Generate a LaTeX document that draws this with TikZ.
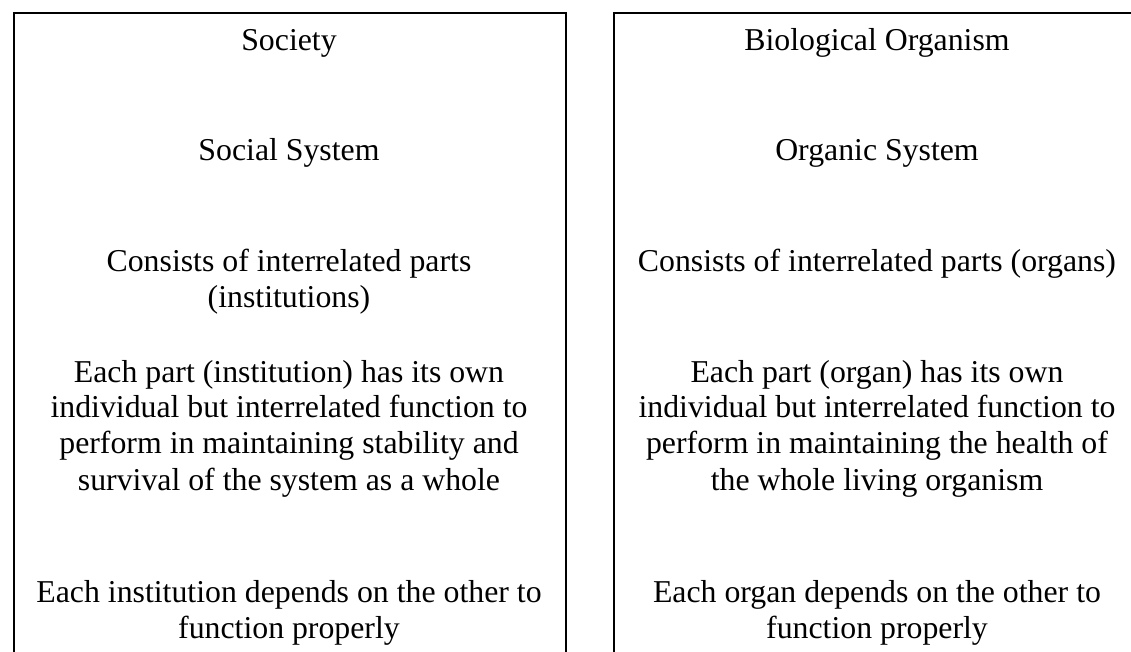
\documentclass[tikz,border=0pt]{standalone}
\usepackage{fontspec}
\setmainfont{Liberation Serif}
\tikzset{panel/.style={rectangle,draw,line width=1pt,minimum width=276pt,minimum height=350pt,anchor=north west,inner sep=0pt},
         entry/.style={align=center,inner sep=0pt,anchor=base,font=\fontsize{15.9}{18}\selectfont}}

\begin{document}
\begin{tikzpicture}[x=0.5pt,y=-0.5pt]
    \useasboundingbox (0,0) rectangle (1131,652);
    % Panels
    \node (society) at (13,12) [panel]{};
    \node (organism) at (613,12) [panel,minimum width=264pt]{};
    % Society side (base = last line)
    \node (soctitle) at (289,51) [entry]{Society};
    \node (socsys) at (289,161) [entry]{Social System};
    \node (socparts) at (289,308) [entry]{Consists of interrelated parts\\(institutions)};
    \node (socfunc) at (289,490) [entry]{Each part (institution) has its own\\individual but interrelated function to\\perform in maintaining stability and\\survival of the system as a whole};
    \node (socdep) at (289,638) [entry]{Each institution depends on the other to\\function properly};
    % Organism side
    \node (orgtitle) at (877,51) [entry]{Biological Organism};
    \node (orgsys) at (877,161) [entry]{Organic System};
    \node (orgparts) at (877,272) [entry]{Consists of interrelated parts (organs)};
    \node (orgfunc) at (877,490) [entry]{Each part (organ) has its own\\individual but interrelated function to\\perform in maintaining the health of\\the whole living organism};
    \node (orgdep) at (877,638) [entry]{Each organ depends on the other to\\function properly};
\end{tikzpicture}
\end{document}
